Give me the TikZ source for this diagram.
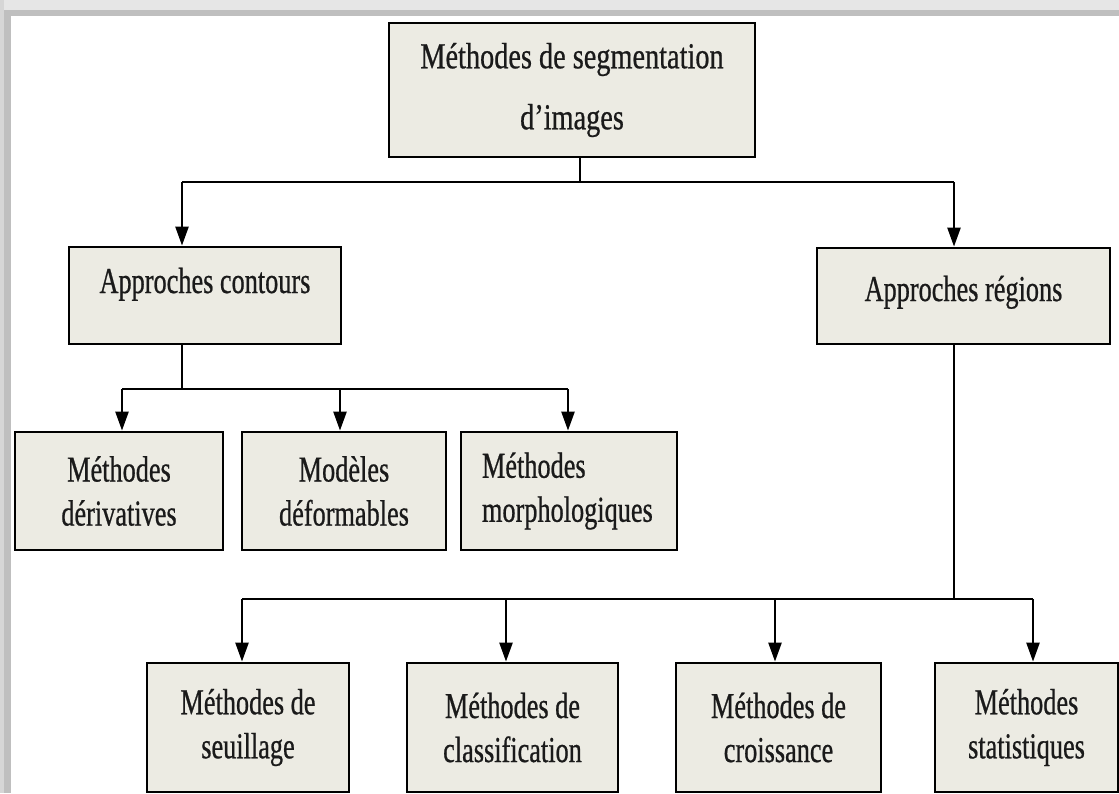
\documentclass[tikz,border=0pt]{standalone}
\usepackage{fontspec}
\setmainfont{Liberation Serif}[FakeStretch=0.72, FakeBold=0.6]
\newfontfamily\titlefont{Liberation Serif}[FakeStretch=0.775, FakeBold=0.6]
\usetikzlibrary{arrows.meta}
\definecolor{boxfill}{HTML}{ECEBE3}
\definecolor{inktext}{HTML}{1A1A1A}
\definecolor{frameA}{HTML}{E6E6E6}
\definecolor{frameB}{HTML}{BFBFBF}
\definecolor{frameC}{HTML}{D6D6D6}
\begin{document}
\begin{tikzpicture}[x=1pt,y=-1pt,
  box/.style={draw=black, line width=2.8pt, fill=boxfill, inner sep=0pt,
    text=inktext, align=center, font=\fontsize{36.5}{44}\selectfont},
  link/.style={draw=black, line width=2.4pt},
  arrow/.style={link, -{Triangle[width=13pt,length=19pt]}}]
\useasboundingbox (0,0) rectangle (1119,793);
\fill[white] (0,0) rectangle (1119,793);
% grey frame along the top and left edges
\fill[frameA] (0,0) rectangle (1119,10);
\fill[frameB] (0,10) rectangle (1119,16);
\fill[frameC] (0,0) rectangle (4,793);
\fill[frameB] (4,10) rectangle (11,793);

% root
\node[box, minimum width=366pt, minimum height=134pt,
  font=\titlefont\fontsize{36.5}{61}\selectfont] (root) at (572,90)
  {Méthodes de segmentation\\d’images};

% second level
\node[box, minimum width=272pt, minimum height=97pt, text height=25pt, text depth=30pt]
  (contours) at (205,295.5) {Approches contours};
\node[box, minimum width=293pt, minimum height=96pt, text height=25pt, text depth=15pt]
  (regions) at (963.5,296) {Approches régions};

% contour-based methods
\node[box, minimum width=208pt, minimum height=118pt] (deriv) at (119,491)
  {Méthodes\\dérivatives};
\node[box, minimum width=204pt, minimum height=118pt] (deform) at (344,491)
  {Modèles\\déformables};
\node[box, minimum width=216pt, minimum height=118pt, align=left, text width=174pt]
  (morpho) at (569,491) {Méthodes\\morphologiques};

% region-based methods
\begin{scope}[every node/.append style={font=\fontsize{36.5}{42}\selectfont}]
\node[box, minimum width=202pt, minimum height=129pt] (seuil) at (248,727.5)
  {Méthodes de\\seuillage};
\node[box, minimum width=211pt, minimum height=129pt] (classif) at (512.5,727.5)
  {Méthodes de\\classification};
\node[box, minimum width=205pt, minimum height=129pt] (croiss) at (778.5,727.5)
  {Méthodes de\\croissance};
\node[box, minimum width=183pt, minimum height=129pt] (stat) at (1026.5,727.5)
  {Méthodes\\statistiques};
\end{scope}

% root to the two approaches
\coordinate (j0) at (580,182);
\coordinate (jl) at (182,182);
\coordinate (jr) at (954,182);
\draw[link] (root.south -| j0) -- (j0);
\draw[link] (jl) -- (jr);
\draw[arrow] (jl) -- (jl |- contours.north);
\draw[arrow] (jr) -- (jr |- regions.north);

% contours branch
\coordinate (c0) at (182,389);
\coordinate (c1) at (122,389);
\coordinate (c2) at (340,389);
\coordinate (c3) at (568,389);
\draw[link] (c0 |- contours.south) -- (c0);
\draw[link] (c1) -- (c3);
\draw[arrow] (c1) -- (c1 |- deriv.north);
\draw[arrow] (c2) -- (c2 |- deform.north);
\draw[arrow] (c3) -- (c3 |- morpho.north);

% regions branch
\coordinate (r0) at (954,599);
\coordinate (b1) at (242,599);
\coordinate (b2) at (506,599);
\coordinate (b3) at (775,599);
\coordinate (b4) at (1033,599);
\draw[link] (r0 |- regions.south) -- (r0);
\draw[link] (b1) -- (b4);
\draw[arrow] (b1) -- (b1 |- seuil.north);
\draw[arrow] (b2) -- (b2 |- classif.north);
\draw[arrow] (b3) -- (b3 |- croiss.north);
\draw[arrow] (b4) -- (b4 |- stat.north);
\end{tikzpicture}
\end{document}
